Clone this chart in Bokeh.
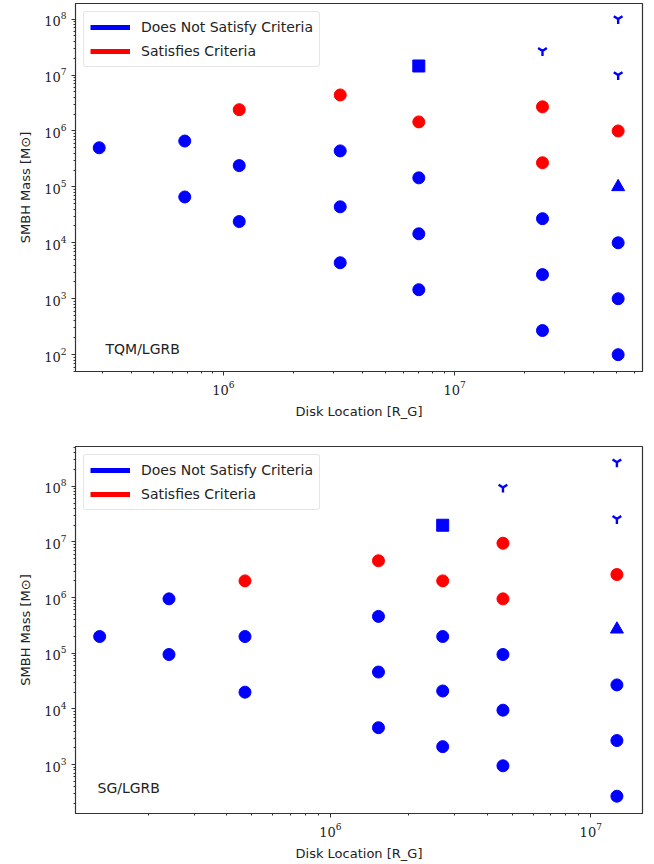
from bokeh.plotting import figure
from bokeh.layouts import column
from bokeh.models import Legend, LegendItem, Label, Range1d
from bokeh.embed import file_html
from bokeh.resources import INLINE

# ---------------- data: TQM / LGRB ----------------
tqm_blue_x = [2.9e5, 6.8e5, 6.8e5, 1.17e6, 1.17e6, 3.2e6, 3.2e6, 3.2e6,
              7.0e6, 7.0e6, 7.0e6, 2.4e7, 2.4e7, 2.4e7, 5.1e7, 5.1e7, 5.1e7]
tqm_blue_y = [5.0e5, 6.6e5, 6.6e4, 2.4e5, 2.4e4, 4.4e5, 4.4e4, 4.4e3,
              1.45e5, 1.45e4, 1.45e3, 2.7e4, 2.7e3, 2.7e2, 1.0e4, 1.0e3, 1.0e2]
tqm_red_x = [1.17e6, 3.2e6, 7.0e6, 2.4e7, 2.4e7, 5.1e7]
tqm_red_y = [2.4e6, 4.4e6, 1.45e6, 2.7e6, 2.7e5, 1.0e6]
tqm_square_x = [7.0e6]
tqm_square_y = [1.45e7]
tqm_tri_x = [5.1e7]
tqm_tri_y = [1.0e5]
tqm_y_x = [2.4e7, 5.1e7, 5.1e7]
tqm_y_y = [2.7e7, 1.0e8, 1.0e7]

# ---------------- data: SG / LGRB ----------------
sg_blue_x = [1.3e5, 2.4e5, 2.4e5, 4.7e5, 4.7e5, 1.53e6, 1.53e6, 1.53e6,
             2.7e6, 2.7e6, 2.7e6, 4.6e6, 4.6e6, 4.6e6, 1.26e7, 1.26e7, 1.26e7]
sg_blue_y = [2.0e5, 9.5e5, 9.5e4, 2.0e5, 2.0e4, 4.6e5, 4.6e4, 4.6e3,
             2.0e5, 2.1e4, 2.1e3, 9.5e4, 9.5e3, 9.5e2, 2.7e4, 2.7e3, 2.7e2]
sg_red_x = [4.7e5, 1.53e6, 2.7e6, 4.6e6, 4.6e6, 1.26e7]
sg_red_y = [2.0e6, 4.6e6, 2.0e6, 9.5e6, 9.5e5, 2.6e6]
sg_square_x = [2.7e6]
sg_square_y = [2.0e7]
sg_tri_x = [1.26e7]
sg_tri_y = [2.7e5]
sg_y_x = [4.6e6, 1.26e7, 1.26e7]
sg_y_y = [9.5e7, 2.7e8, 2.6e7]

legend_labels = ["Does Not Satisfy Criteria", "Satisfies Criteria"]
BLUE = "#0000ff"
RED = "#ff0000"
NAN = float("nan")


def make_plot(name, xr, yr, blue, red, sq, tri, yy, top, bottom, label_pos):
    p = figure(width=654, height=432, x_axis_type="log", y_axis_type="log",
               x_range=Range1d(*xr), y_range=Range1d(*yr),
               output_backend="svg", toolbar_location=None,
               min_border_left=75, min_border_right=12,
               min_border_top=top, min_border_bottom=bottom)
    p.xgrid.visible = False
    p.ygrid.visible = False
    p.outline_line_color = "#333333"
    p.outline_line_width = 1.2
    p.background_fill_color = "white"
    p.border_fill_color = "white"

    for ax in (p.xaxis[0], p.yaxis[0]):
        ax.major_label_text_font = "DejaVu Serif"
        ax.major_label_text_font_size = "13px"
        ax.major_label_text_color = "#222222"
        ax.axis_label_text_font = "DejaVu Sans"
        ax.axis_label_text_font_size = "13px"
        ax.axis_label_text_font_style = "normal"
        ax.axis_label_text_color = "#222222"
        ax.axis_line_color = "#333333"
        ax.major_tick_line_color = "#333333"
        ax.minor_tick_line_color = "#333333"
        ax.major_tick_out = 4
        ax.major_tick_in = 0
        ax.minor_tick_out = 2
        ax.minor_tick_in = 0
    p.xaxis.axis_label = "Disk Location [R_G]"
    p.yaxis.axis_label = "SMBH Mass [M\u2299]"
    p.xaxis.axis_label_standoff = 6
    p.yaxis.axis_label_standoff = 8

    p.scatter(blue[0], blue[1], marker="circle", size=12, color=BLUE)
    p.scatter(red[0], red[1], marker="circle", size=12, color=RED)
    p.scatter(sq[0], sq[1], marker="square", size=12, color=BLUE)
    p.scatter(tri[0], tri[1], marker="triangle", size=13, color=BLUE)
    p.scatter(yy[0], yy[1], marker="y", size=10, line_color=BLUE, line_width=2.4)

    # legend-only line renderers (no visible data)
    lb = p.line([NAN, NAN], [NAN, NAN], line_color=BLUE, line_width=5)
    lr = p.line([NAN, NAN], [NAN, NAN], line_color=RED, line_width=5)
    legend = Legend(items=[LegendItem(label=legend_labels[0], renderers=[lb]),
                           LegendItem(label=legend_labels[1], renderers=[lr])],
                    location="top_left")
    legend.label_text_font = "DejaVu Sans"
    legend.label_text_font_size = "14px"
    legend.label_text_color = "#222222"
    legend.glyph_width = 40
    legend.glyph_height = 18
    legend.label_standoff = 11
    legend.spacing = 6
    legend.padding = 6
    legend.margin = 8
    legend.border_line_color = "#cccccc"
    legend.border_line_width = 1
    legend.border_radius = 3
    legend.background_fill_alpha = 0.8
    p.add_layout(legend)

    p.add_layout(Label(x=label_pos[0], y=label_pos[1], x_units="screen",
                       y_units="screen", text=name, text_font="DejaVu Sans",
                       text_font_size="14px", text_color="#222222",
                       text_baseline="middle"))
    return p


p1 = make_plot("TQM/LGRB", (2.29e5, 6.5e7), (50, 1.9e8),
               (tqm_blue_x, tqm_blue_y), (tqm_red_x, tqm_red_y),
               (tqm_square_x, tqm_square_y), (tqm_tri_x, tqm_tri_y),
               (tqm_y_x, tqm_y_y), top=3, bottom=61, label_pos=(30, 23))
p2 = make_plot("SG/LGRB", (1.05e5, 1.58e7), (132, 5.2e8),
               (sg_blue_x, sg_blue_y), (sg_red_x, sg_red_y),
               (sg_square_x, sg_square_y), (sg_tri_x, sg_tri_y),
               (sg_y_x, sg_y_y), top=14, bottom=51, label_pos=(22, 26))

layout = column(p1, p2, spacing=0)
open("out.html", "w").write(file_html(layout, INLINE))
